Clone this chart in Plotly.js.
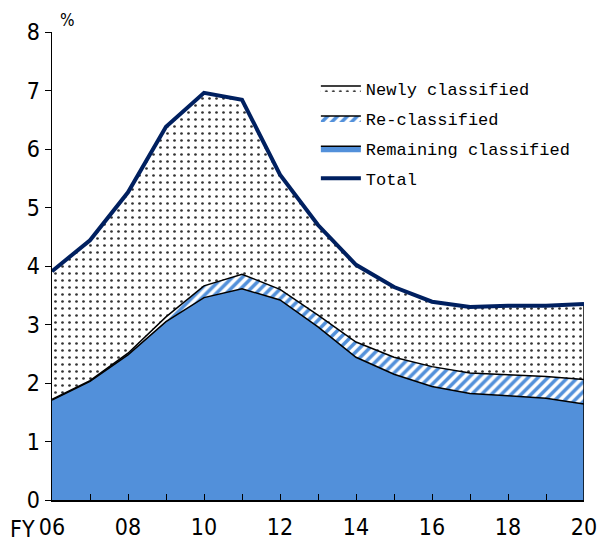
<!DOCTYPE html>
<html>
<head>
<meta charset="utf-8">
<script src="https://cdn.plot.ly/plotly-3.0.1.min.js"></script>
<style>html,body{margin:0;padding:0;background:#fff;}#chart{width:608px;height:549px;}</style>
</head>
<body>
<div id="chart"></div>
<script>
const years = [2006,2007,2008,2009,2010,2011,2012,2013,2014,2015,2016,2017,2018,2019,2020];
const remaining = [1.71,2.03,2.48,3.05,3.46,3.61,3.42,2.96,2.44,2.15,1.94,1.82,1.78,1.74,1.64];
const reclassified = [0.01,0.01,0.03,0.08,0.20,0.25,0.18,0.20,0.26,0.29,0.34,0.35,0.36,0.37,0.42];
const newly = [2.19,2.40,2.75,3.25,3.30,2.98,1.96,1.54,1.32,1.20,1.11,1.13,1.18,1.21,1.29];
const total = years.map((_, i) => remaining[i] + reclassified[i] + newly[i]);
const tickVals = [2006,2008,2010,2012,2014,2016,2018,2020];
const tickText = ['06','08','10','12','14','16','18','20'];

const blue = '#5290DA';
const traces = [
  {x: years, y: remaining, name: 'Remaining classified', type: 'scatter', mode: 'lines',
   stackgroup: 'one', legendrank: 3, legendgroup: 'c',
   line: {color: '#000', width: 1.5}, fillcolor: blue},
  {x: years, y: reclassified, name: 'Re-classified', type: 'scatter', mode: 'lines',
   stackgroup: 'one', legendrank: 2, legendgroup: 'b',
   line: {color: '#000', width: 1.5},
   fillpattern: {shape: '/', fgcolor: blue, bgcolor: '#fff', size: 7, solidity: 0.5}},
  {x: years, y: newly, name: 'Newly classified', type: 'scatter', mode: 'lines',
   stackgroup: 'one', legendrank: 1, legendgroup: 'a',
   line: {color: '#000', width: 1.5},
   fillpattern: {shape: '.', fgcolor: '#333', bgcolor: '#fff', size: 7, solidity: 0.12}},
  {x: [years[years.length-1], years[years.length-1]], y: [0, total[total.length-1]],
   type: 'scatter', mode: 'lines', showlegend: false, hoverinfo: 'skip',
   line: {color: '#000', width: 1.5}},
  {x: years, y: total, name: 'Total', type: 'scatter', mode: 'lines', legendrank: 4, legendgroup: 'd',
   line: {color: '#002060', width: 4}}
];

const layout = {
  width: 608, height: 549,
  margin: {l: 52, r: 24, t: 32, b: 49},
  paper_bgcolor: '#fff', plot_bgcolor: '#fff',
  font: {family: '"Liberation Sans Narrow", "DejaVu Sans Condensed", Arial, sans-serif', size: 23, color: '#000'},
  xaxis: {range: [2006, 2020], tickvals: tickVals, ticktext: tickText,
    showgrid: false, zeroline: false, showline: true, linecolor: '#000', linewidth: 1.5,
    ticks: '', ticklabelstandoff: 6, fixedrange: true},
  xaxis2: {overlaying: 'x', range: [2006, 2020], dtick: 1, tick0: 2006, ticks: 'inside', ticklen: 6,
    tickcolor: '#000', showticklabels: false, showgrid: false, zeroline: false, matches: 'x'},
  yaxis: {range: [0, 8], dtick: 1, showgrid: false, zeroline: false, showline: true,
    linecolor: '#000', linewidth: 1.5, ticks: 'outside', ticklen: 6, tickcolor: '#000'},
  showlegend: true,
  legend: {x: 0.496, y: 0.918, xanchor: 'left', yanchor: 'top', bgcolor: 'rgba(0,0,0,0)',
    font: {family: '"Liberation Mono", "DejaVu Sans Mono", monospace', size: 17, color: '#000'},
    traceorder: 'grouped', tracegroupgap: 5, itemwidth: 40},
  annotations: [
    {text: '%', xref: 'paper', yref: 'paper', x: 0.012, y: 1.0, xanchor: 'left', yanchor: 'bottom',
     showarrow: false, font: {size: 17}},
    {text: 'FY', xref: 'paper', yref: 'paper', x: -0.082, y: 0, xanchor: 'left', yanchor: 'top',
     yshift: -14, showarrow: false, font: {size: 23}}
  ]
};

traces.push({x: years, y: years.map(() => null), xaxis: 'x2', yaxis: 'y', type: 'scatter',
  mode: 'lines', showlegend: false, hoverinfo: 'skip'});

Plotly.newPlot('chart', traces, layout, {displayModeBar: false, staticPlot: true});
</script>
</body>
</html>
